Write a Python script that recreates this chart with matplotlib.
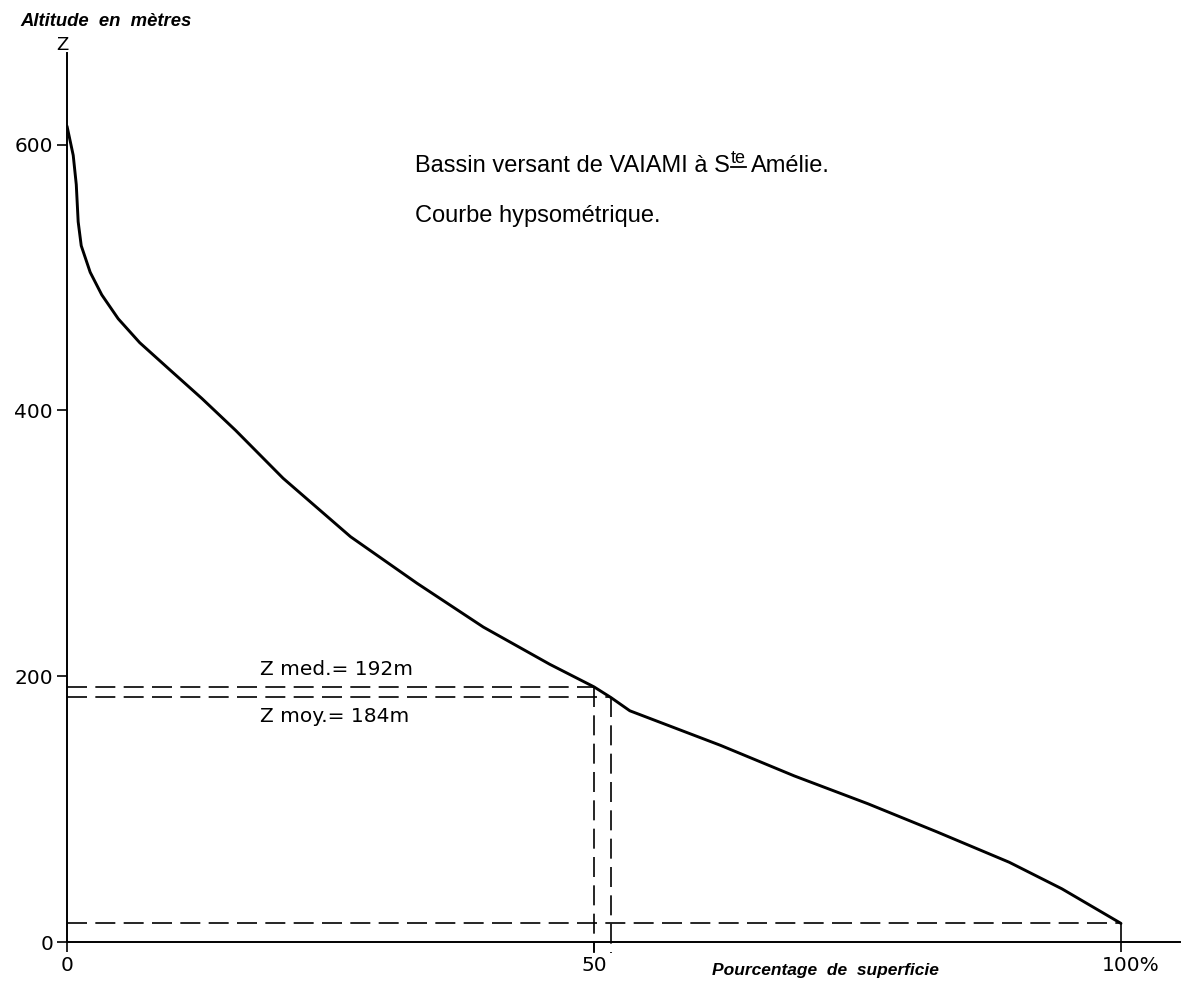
import numpy as np
from matplotlib import pyplot as plt
from matplotlib.lines import Line2D
from matplotlib.transforms import ScaledTranslation

# courbe hypsométrique : pourcentage de superficie / altitude (m)
pct = [0, 0.59, 0.88, 1.06, 1.35, 2.2, 3.3, 4.86, 6.9, 9.7, 12.8, 16.0,
       20.5, 26.9, 33.2, 39.5, 45.8, 50.0, 51.6, 53.4, 62.0, 69.0, 76.0,
       82.5, 89.4, 94.4, 100]
alt = [614, 592, 570, 542, 524, 504, 487, 469, 451, 431, 409, 385,
       349, 305, 270, 237, 209, 192, 184, 174, 148, 125, 104,
       83, 60, 40, 14]

z_med, x_med = 192, 50.0
z_moy, x_moy = 184, 51.6
z_min = 14

xticks = [0, 50, 100]
xticklabels = ["0", "50", "100%"]
yticks = [0, 200, 400, 600]

plt.rcParams['font.family'] = ['DejaVu Sans']

W, H = 1190, 989
fig = plt.figure(figsize=(W / 100, H / 100), dpi=100)
ax = fig.add_axes([67 / W, 1 - 942 / H, 1113 / W, 889 / H])

ax.plot(pct, alt, color='black', lw=2.1, solid_capstyle='round',
        solid_joinstyle='round')

dash = (0, (12, 5))
kw = dict(color='black', lw=1.2, linestyle=dash)
ax.plot([0, x_med], [z_med, z_med], **kw)
ax.plot([0, x_moy], [z_moy, z_moy], **kw)
ax.plot([x_med, x_med], [z_med, -8], clip_on=False, **kw)
ax.plot([x_moy, x_moy], [z_moy, -8], clip_on=False, **kw)
ax.plot([0, 100], [z_min, z_min], **kw)
ax.plot([100, 100], [z_min, 0], **kw)

ax.set_xlim(0, 105.6)
ax.set_ylim(0, 669)
for s in ['top', 'right']:
    ax.spines[s].set_visible(False)
for s in ['left', 'bottom']:
    ax.spines[s].set_linewidth(1.4)
ax.set_xticks(xticks)
ax.set_xticklabels(xticklabels)
ax.set_yticks(yticks)
ax.tick_params(axis='both', direction='out', length=7, width=1.2, labelsize=14.5, pad=3)
# "100%" : le chiffre centré sur la graduation, le % débordant à droite
lab = ax.get_xticklabels()[2]
lab.set_transform(lab.get_transform() + ScaledTranslation(10 / 100, 0, fig.dpi_scale_trans))

ax.text(18.3, 198, "Z med.= 192m", fontsize=14.5, ha='left', va='bottom')
ax.text(18.3, 177, "Z moy.= 184m", fontsize=14.5, ha='left', va='top')

fig.text(20 / W, 1 - 26 / H, "Altitude  en  mètres", fontsize=13.3, style='italic',
         weight='bold', family='Liberation Sans', ha='left', va='baseline')
fig.text(62 / W, 1 - 50 / H, "Z", fontsize=13, ha='center', va='baseline')
fig.text(712 / W, 1 - 975 / H, "Pourcentage  de  superficie", fontsize=12.5,
         style='italic', weight='bold', family='Liberation Sans', ha='left',
         va='baseline')

# titre, avec "te" en exposant souligné
tfont = dict(fontsize=17, family='Liberation Sans')
y0 = 1 - 172 / H
t1 = fig.text(415 / W, y0, "Bassin versant de VAIAMI à S", ha='left',
              va='baseline', **tfont)
fig.canvas.draw()
r = fig.canvas.get_renderer()
bb1 = t1.get_window_extent(r)
t2 = fig.text((bb1.x1 + 1) / W, y0 + 9 / H, "te", fontsize=13,
              family='Liberation Sans', ha='left', va='baseline')
bb2 = t2.get_window_extent(r)
fig.add_artist(Line2D([bb2.x0 / W, bb2.x1 / W], [y0 + 5 / H, y0 + 5 / H],
                      color='black', lw=1.3, transform=fig.transFigure))
fig.text((bb2.x1 + 5) / W, y0, "Amélie.", ha='left', va='baseline', **tfont)
fig.text(415 / W, 1 - 222 / H, "Courbe hypsométrique.", ha='left',
         va='baseline', **tfont)

fig.savefig("out.png", dpi=100)
